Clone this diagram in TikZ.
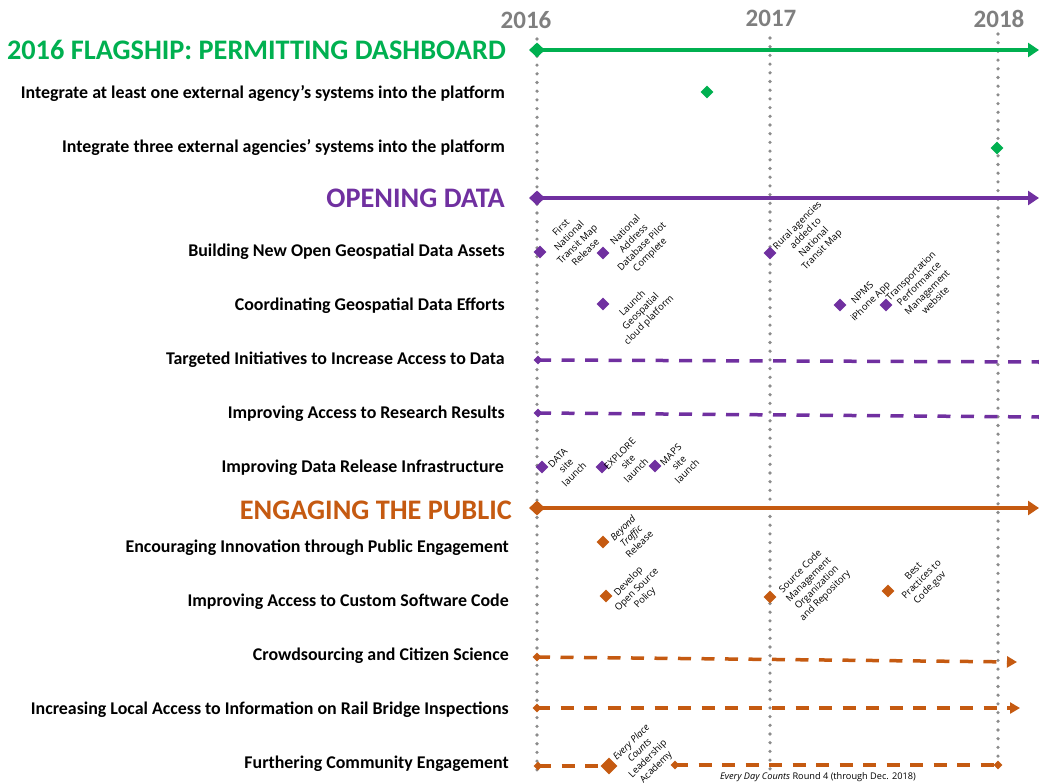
\documentclass[tikz,border=0pt]{standalone}
\usepackage{fontspec}
\setmainfont{Carlito}
\newfontfamily\lblfont{Open Sans}
\usetikzlibrary{arrows.meta,shapes.geometric}

\definecolor{flagGreen}{HTML}{00B050}
\definecolor{openPurple}{HTML}{7030A0}
\definecolor{engOrange}{HTML}{C55A11}
\definecolor{yearGray}{HTML}{7F7F7F}
\definecolor{dotGray}{HTML}{8C8C8C}

\begin{document}
\begin{tikzpicture}[x=1pt,y=-1pt,
  yearlbl/.style={font=\fontsize{25}{25}\selectfont\bfseries, text=yearGray, inner sep=0},
  header/.style={font=\fontsize{28.3}{28}\selectfont\bfseries, anchor=east, inner sep=0},
  rowlbl/.style={font=\fontsize{17.9}{18}\selectfont\bfseries, anchor=east, inner sep=0, yshift=-2pt},
  yearline/.style={dotGray, line width=3.6pt, line cap=round, dash pattern=on 0pt off 8.7pt},
  mainline/.style={line width=4pt, -{Triangle[length=11pt,width=14pt]}},
  dashline/.style={line width=3.5pt, dash pattern=on 13pt off 10.5pt},
  milestone/.style={diamond, fill=#1, inner sep=0, minimum width=13pt, minimum height=13pt},
  startmark/.style={diamond, fill=#1, inner sep=0, minimum width=16pt, minimum height=15pt},
  endmark/.style={diamond, fill=#1, inner sep=0, minimum width=9pt, minimum height=9pt},
  note/.style={font=\lblfont\fontsize{9.5}{11.6}\selectfont, align=center, rotate=45, inner sep=0},
]
\useasboundingbox (0,0) rectangle (1039,784);

% ---------- years and their guide lines ----------
\node[yearlbl] (y16) at (526,20) {2016};
\node[yearlbl] (y17) at (771,18) {2017};
\node[yearlbl] (y18) at (999,19) {2018};
\coordinate (t16) at (537,39);  \coordinate (b16) at (537,778);
\coordinate (t17) at (770,38);  \coordinate (b17) at (770,775);
\coordinate (t18) at (998,34);  \coordinate (b18) at (998,757);
\draw[yearline] (t16) -- (b16);
\draw[yearline] (t17) -- (b17);
\draw[yearline] (t18) -- (b18);

% ---------- 2016 flagship ----------
\node[header, text=flagGreen] (hFlag) at (506,50) {2016 FLAGSHIP: PERMITTING DASHBOARD};
\node[startmark=flagGreen] (gS) at (537,50) {};
\coordinate (gE) at (1039,50);
\draw[mainline, flagGreen] (gS.center) -- (gE);

\node[rowlbl] (r1) at (505,92) {Integrate at least one external agency’s systems into the platform};
\node[rowlbl] (r2) at (505,146) {Integrate three external agencies’ systems into the platform};
\node[milestone=flagGreen] (m1) at (707,92) {};
\node[milestone=flagGreen] (m2) at (997,148) {};

% ---------- opening data ----------
\node[header, text=openPurple] (hOpen) at (505,198) {OPENING DATA};
\node[startmark=openPurple] (pS) at (537,198) {};
\coordinate (pE) at (1039,198);
\draw[mainline, openPurple] (pS.center) -- (pE);

\node[rowlbl] (r3) at (505,250) {Building New Open Geospatial Data Assets};
\node[rowlbl] (r4) at (505,304) {Coordinating Geospatial Data Efforts};
\node[rowlbl] (r5) at (505,358) {Targeted Initiatives to Increase Access to Data};
\node[rowlbl] (r6) at (505,412) {Improving Access to Research Results};
\node[rowlbl] (r7) at (504,466) {Improving Data Release Infrastructure};

\node[milestone=openPurple] (pa1) at (540,252) {};
\node[note] (na1) at (573,240) {First\\National\\Transit Map\\Release};
\node[milestone=openPurple] (pa2) at (603,253) {};
\node[note] (na2) at (638,243) {National\\Address\\Database Pilot\\Complete};
\node[milestone=openPurple] (pa3) at (770,253) {};
\node[note] (na3) at (810,238) {Rural agencies\\added to\\National\\Transit Map};

\node[milestone=openPurple] (pb1) at (603,304) {};
\node[note] (nb1) at (641,312) {Launch\\Geospatial\\cloud platform};
\node[milestone=openPurple] (pb2) at (840,305) {};
\node[note] (nb2) at (867,298) {NPMS\\iPhone App};
\node[milestone=openPurple] (pb3) at (886,305) {};
\node[note] (nb3) at (923,288) {Transportation\\Performance\\Management\\website};

\node[endmark=openPurple] (pc1) at (538,360) {};
\node[endmark=openPurple] (pc2) at (1041,362) {};
\draw[dashline, openPurple] (pc1.center) -- (pc2.center);
\node[endmark=openPurple] (pd1) at (538,413) {};
\node[endmark=openPurple] (pd2) at (1041,417) {};
\draw[dashline, openPurple] (pd1.center) -- (pd2.center);

\node[milestone=openPurple] (pe1) at (542,467) {};
\node[note] (ne1) at (566,466) {DATA\\site\\launch};
\node[milestone=openPurple] (pe2) at (602,467) {};
\node[note] (ne2) at (628,462) {EXPLORE\\site\\launch};
\node[milestone=openPurple] (pe3) at (655,466) {};
\node[note] (ne3) at (679,463) {MAPS\\site\\launch};

% ---------- engaging the public ----------
\node[header, text=engOrange] (hEng) at (512,510) {ENGAGING THE PUBLIC};
\node[startmark=engOrange] (oS) at (537,508) {};
\coordinate (oE) at (1039,508);
\draw[mainline, engOrange] (oS.center) -- (oE);

\node[rowlbl] (r8) at (509,546) {Encouraging Innovation through Public Engagement};
\node[rowlbl] (r9) at (509,600) {Improving Access to Custom Software Code};
\node[rowlbl] (r10) at (509,654) {Crowdsourcing and Citizen Science};
\node[rowlbl] (r11) at (509,708) {Increasing Local Access to Information on Rail Bridge Inspections};
\node[rowlbl] (r12) at (509,762) {Furthering Community Engagement};

\node[milestone=engOrange] (oa1) at (603,542) {};
\node[note] (noa1) at (631,536) {\itshape Beyond\\\itshape Traffic\\Release};

\node[milestone=engOrange] (ob1) at (606,596) {};
\node[note] (nob1) at (637,590) {Develop\\Open Source\\Policy};
\node[milestone=engOrange] (ob2) at (770,597) {};
\node[note] (nob2) at (813,584) {Source Code\\Management\\Organization\\and Repository};
\node[milestone=engOrange] (ob3) at (888,591) {};
\node[note] (nob3) at (922,580) {Best\\Practices to\\Code.gov};

\node[endmark=engOrange] (oc1) at (537,657) {};
\coordinate (oc2) at (1017,662);
\draw[dashline, engOrange, -{Triangle[length=10pt,width=11pt]}] (oc1.center) -- (oc2);
\node[endmark=engOrange] (od1) at (537,708) {};
\coordinate (od2) at (1020,708);
\draw[dashline, engOrange, -{Triangle[length=10pt,width=11pt]}] (od1.center) -- (od2);

\node[endmark=engOrange] (oe1) at (538,766) {};
\node[milestone=engOrange, minimum width=17pt, minimum height=17pt] (oe2) at (609,766) {};
\node[endmark=engOrange] (oe3) at (675,765) {};
\node[endmark=engOrange] (oe4) at (998,765) {};
\draw[dashline, engOrange] (oe1.center) -- (oe2.center);
\draw[dashline, engOrange] (oe3.center) -- (oe4.center);
\node[note] (noe2) at (644,755) {\itshape Every Place\\\itshape Counts\\Leadership\\Academy};

\node[font=\lblfont\fontsize{9.2}{10}\selectfont, inner sep=0] (edc) at (818,777)
  {\itshape Every Day Counts\upshape{} Round 4 (through Dec. 2018)};
\end{tikzpicture}
\end{document}
